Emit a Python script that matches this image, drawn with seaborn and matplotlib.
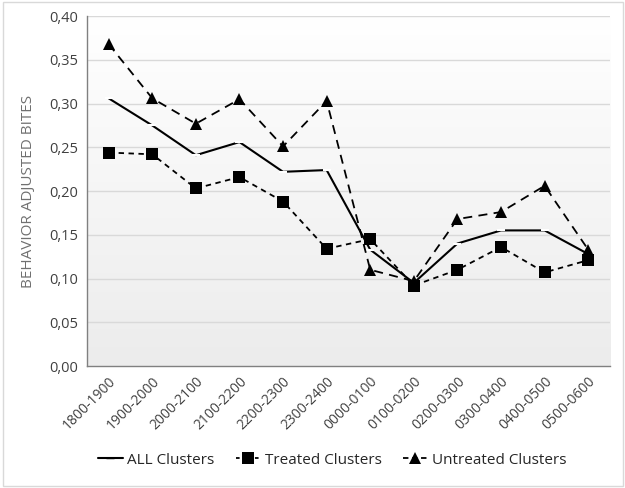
import numpy as np
import pandas as pd
import seaborn as sns
import matplotlib.pyplot as plt
from matplotlib.lines import Line2D
from matplotlib.colors import LinearSegmentedColormap

# Hourly periods and adjusted bite rates
periods = ["1800-1900", "1900-2000", "2000-2100", "2100-2200", "2200-2300", "2300-2400",
           "0000-0100", "0100-0200", "0200-0300", "0300-0400", "0400-0500", "0500-0600"]
all_clusters = [0.306, 0.275, 0.241, 0.256, 0.222, 0.224, 0.133, 0.095, 0.140, 0.155, 0.155, 0.128]
treated = [0.244, 0.242, 0.203, 0.216, 0.188, 0.134, 0.145, 0.092, 0.110, 0.136, 0.107, 0.121]
untreated = [0.368, 0.306, 0.277, 0.305, 0.251, 0.303, 0.110, 0.097, 0.168, 0.176, 0.206, 0.133]
y_ticks = [0.0, 0.05, 0.10, 0.15, 0.20, 0.25, 0.30, 0.35, 0.40]

sns.set_style("white")
plt.rcParams['font.family'] = ['Open Sans', 'DejaVu Sans']

df = pd.DataFrame({"pos": np.arange(len(periods)), "all": all_clusters,
                   "treated": treated, "untreated": untreated})

fig = plt.figure(figsize=(6.25, 4.88), dpi=100)
ax = fig.add_axes([0.139, 0.25, 0.837, 0.717])

# gradient background, light grey at bottom fading to white at top
grad = np.linspace(0.0, 1.0, 256).reshape(-1, 1)
bg_cmap = LinearSegmentedColormap.from_list("bg", ["#ececec", "#ffffff"])
ax.imshow(grad, extent=[-0.5, len(periods) - 0.5, 0, 0.40], aspect='auto',
          cmap=bg_cmap, zorder=0, origin='lower')

sns.lineplot(data=df, x="pos", y="all", ax=ax, color="black", linewidth=1.5,
             marker="_", markersize=6, markeredgewidth=1.5, zorder=3)
sns.lineplot(data=df, x="pos", y="treated", ax=ax, color="black", linewidth=1.3,
             linestyle=(0, (3, 2.5)), marker="s", markersize=9, markeredgewidth=0, zorder=3)
sns.lineplot(data=df, x="pos", y="untreated", ax=ax, color="black", linewidth=1.3,
             linestyle=(0, (5, 3.5)), marker="^", markersize=9, markeredgewidth=0, zorder=3)

ax.set_xlim(-0.5, len(periods) - 0.5)
ax.set_ylim(0, 0.40)
ax.set_yticks(y_ticks)
ax.set_yticklabels([f"{v:.2f}".replace(".", ",") for v in y_ticks], fontsize=10.5, color="#404040")
ax.set_xticks(np.arange(len(periods)))
ax.set_xticklabels(periods, rotation=45, ha="right", rotation_mode="anchor", fontsize=10, color="#404040")
ax.tick_params(axis='both', length=0, pad=6)
ax.set_xlabel("")
ax.set_ylabel("BEHAVIOR ADJUSTED BITES", fontsize=11, color="#707070", labelpad=10)
for y in y_ticks[1:]:
    ax.axhline(y, color="#d9d9d9", linewidth=1, zorder=1)

for side in ["top", "right"]:
    ax.spines[side].set_visible(False)
for side in ["left", "bottom"]:
    ax.spines[side].set_color("#808080")
    ax.spines[side].set_linewidth(1)

handles = [
    Line2D([], [], color="black", linewidth=1.5, marker="_", markersize=6),
    Line2D([], [], color="black", linewidth=1.3, linestyle=(0, (2, 1.5)), marker="s", markersize=8, markeredgewidth=0),
    Line2D([], [], color="black", linewidth=1.3, linestyle=(0, (3, 2)), marker="^", markersize=8, markeredgewidth=0),
]
fig.legend(handles, ["ALL Clusters", "Treated Clusters", "Untreated Clusters"],
           loc="center", bbox_to_anchor=(0.532, 0.057), ncol=3, frameon=False,
           fontsize=11, handlelength=1.6, columnspacing=1.4, handletextpad=0.3,
           labelcolor="#262626")

# light outer border like the original chart frame
fig.patches.append(plt.Rectangle((0.004, 0.004), 0.992, 0.992, transform=fig.transFigure,
                                 fill=False, edgecolor="#d9d9d9", linewidth=1))

fig.savefig("out.png", dpi=100)
